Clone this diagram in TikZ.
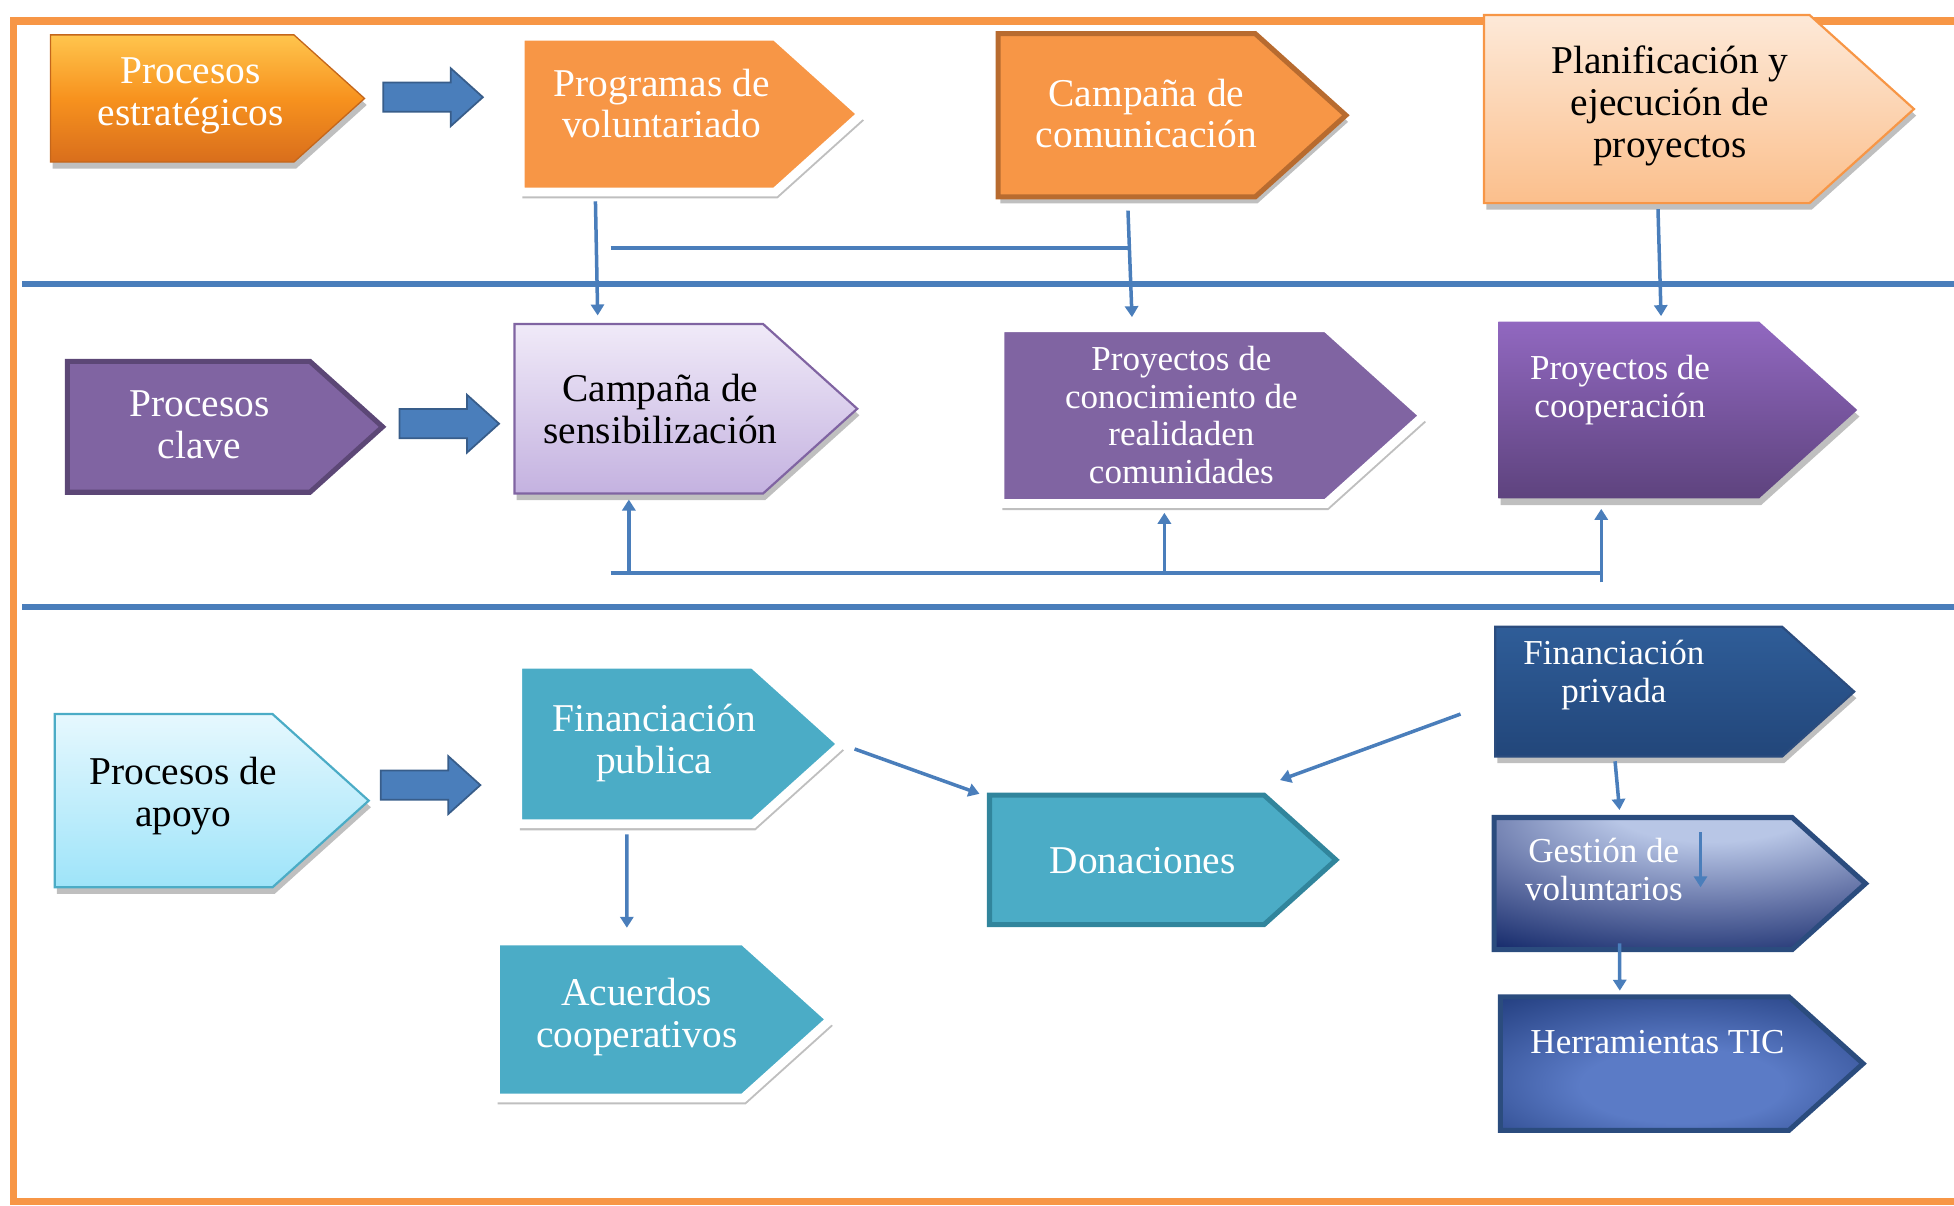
\documentclass[tikz,border=0pt]{standalone}
\usepackage{fontspec}
\setmainfont{Liberation Serif}
\usetikzlibrary{shapes.arrows,shapes.symbols,shadows,calc,arrows.meta}
\newcommand{\pxu}{0.02cm}
\definecolor{frameor}{HTML}{F79646}
\definecolor{lineblue}{HTML}{4A7EBB}
\definecolor{arrowedge}{HTML}{385D8A}
\definecolor{or1}{HTML}{FFC54D}
\definecolor{or2}{HTML}{F7921E}
\definecolor{or3}{HTML}{D96E1C}
\definecolor{or4}{HTML}{C4661B}
\definecolor{orbrown}{HTML}{B86B2F}
\definecolor{peach1}{HTML}{FDE9D8}
\definecolor{peach2}{HTML}{FBBF8C}
\definecolor{purp}{HTML}{8064A2}
\definecolor{purpdark}{HTML}{5C4776}
\definecolor{lav1}{HTML}{F0EAF8}
\definecolor{lav2}{HTML}{C4B2E0}
\definecolor{vio1}{HTML}{9168C0}
\definecolor{vio2}{HTML}{5E437E}
\definecolor{cyan1}{HTML}{E6F8FE}
\definecolor{cyan2}{HTML}{9EE4F9}
\definecolor{teal}{HTML}{4BACC6}
\definecolor{tealdark}{HTML}{31859C}
\definecolor{navy1}{HTML}{2F5D98}
\definecolor{navy2}{HTML}{22467A}
\definecolor{navyedge}{HTML}{2B4C7E}
\definecolor{gvin}{HTML}{B8C6E6}
\definecolor{gvmid}{HTML}{6675A8}
\definecolor{gvout}{HTML}{14296A}
\definecolor{htin}{HTML}{5B7BC6}
\definecolor{htout}{HTML}{152F6E}
\pgfdeclareradialshading{gvshading}{\pgfpoint{5bp}{35bp}}{color(0bp)=(gvin); color(14bp)=(gvin); color(32bp)=(gvmid); color(50bp)=(gvout); color(95bp)=(gvout)}
\pgfdeclareradialshading{htshading}{\pgfpoint{0bp}{-10bp}}{color(0bp)=(htin); color(14bp)=(htin); color(46bp)=(htout); color(80bp)=(htout)}

\begin{document}
\begin{tikzpicture}[x=0.02cm, y=-0.02cm,
    plate/.style 2 args={shape=signal, signal to=east, signal from=nowhere, signal pointer angle=84, inner sep=0pt, anchor=west, minimum width=#1*\pxu, minimum height=#2*\pxu},
    boxshadow/.style={drop shadow={shadow xshift=1pt, shadow yshift=-3pt, opacity=0.25, fill=black}},
    wline/.style={draw=white, line width=4pt},
    wtxt/.style={text=white, align=center, font=\fontsize{18}{19}\selectfont},
    btxt/.style={wtxt, text=black},
    stxt/.style={wtxt, font=\fontsize{16}{17.3}\selectfont},
    conn/.style={draw=lineblue, line width=1.6pt, -{Triangle[length=5pt,width=6pt]}},
    bus/.style={draw=lineblue, line width=1.6pt},
    divider/.style={draw=lineblue, line width=2.8pt},
    bigarrow/.style={shape=single arrow, draw=arrowedge, fill=lineblue, line width=0.8pt, inner xsep=0pt, inner ysep=11*\pxu, minimum height=80*\pxu, single arrow head extend=11.5*\pxu, single arrow tip angle=84}]
    \useasboundingbox (0,0) rectangle (1568,967);

    % frame and bands
    \draw[frameor, line width=3.4pt] (1580,17) -- (11,17) -- (11,964) -- (1580,964);
    \draw[divider] (18,228) -- (1580,228);
    \draw[divider] (18,487) -- (1580,487);

    % strategic processes
    \node[plate={252}{102}, boxshadow, top color=or1, bottom color=or3, middle color=or2, draw=or4, line width=.6pt] (pe) at (40,79) {};
    \node[plate={274}{125}, boxshadow, fill=frameor, wline] (pv) at (414,91.5) {};
    \node[plate={279}{131}, boxshadow, fill=frameor, draw=orbrown, line width=2.3pt] (pc) at (799,92.5) {};
    \node[plate={345}{151}, boxshadow, top color=peach1, bottom color=peach2, draw=frameor, line width=1pt] (pp) at (1190,87.5) {};
    \node[wtxt] (pe-t) at (153,77) {Procesos\\estratégicos};
    \node[wtxt] (pv-t) at (531,83) {Programas de\\voluntariado};
    \node[wtxt] (pc-t) at (920,91) {Campaña de\\comunicación};
    \node[btxt] (pp-t) at (1340,85) {Planificación y\\ejecución de\\proyectos};

    % key processes
    \node[plate={253}{105}, fill=purp, draw=purpdark, line width=2.3pt] (pk) at (52,342.5) {};
    \node[plate={275}{136}, boxshadow, top color=lav1, bottom color=lav2, draw=purp, line width=1pt] (ps) at (412,328) {};
    \node[plate={340}{141}, boxshadow, fill=purp, wline] (pr) at (799,333.5) {};
    \node[plate={288}{142}, boxshadow, top color=vio1, bottom color=vio2] (pco) at (1202,329) {};
    \node[wtxt] (pk-t) at (160,341) {Procesos\\clave};
    \node[btxt] (ps-t) at (530,328) {Campaña de\\sensibilización};
    \node[stxt] (pr-t) at (948,333) {Proyectos de\\conocimiento de\\realidaden\\comunidades};
    \node[stxt] (pco-t) at (1300,313) {Proyectos de\\cooperación};

    % support processes
    \node[plate={252}{139}, boxshadow, top color=cyan1, bottom color=cyan2, draw=teal, line width=1pt] (pa) at (43,642.5) {};
    \node[plate={260}{128}, boxshadow, fill=teal, wline] (fp) at (412,597) {};
    \node[plate={269}{126}, boxshadow, fill=teal, wline] (ac) at (394,818) {};
    \node[plate={278}{104}, fill=teal, draw=tealdark, line width=2.3pt] (dn) at (792,690) {};
    \node[plate={288}{104}, boxshadow, top color=navy1, bottom color=navy2, draw=navyedge, line width=1pt] (fv) at (1199,555) {};
    \node[plate={298}{106}, shade, shading=gvshading, draw=navyedge, line width=2.3pt] (gv) at (1197,709) {};
    \node[plate={291}{107}, shade, shading=htshading, draw=navyedge, line width=2.3pt] (ht) at (1202,853.5) {};
    \node[btxt] (pa-t) at (147,639) {Procesos de\\apoyo};
    \node[wtxt] (fp-t) at (525,596) {Financiación\\publica};
    \node[wtxt] (ac-t) at (511,816) {Acuerdos\\cooperativos};
    \node[wtxt] (dn-t) at (917,691) {Donaciones};
    \node[stxt] (fv-t) at (1295,542) {Financiación\\privada};
    \node[stxt] (gv-t) at (1287,698) {Gestión de\\voluntarios};
    \node[stxt] (ht-t) at (1330,836) {Herramientas TIC};

    % block arrows
    \node[bigarrow] (a1) at (341,78) {};
    \node[bigarrow] (a2) at (354,340) {};
    \node[bigarrow] (a3) at (339,630) {};

    % top band links
    \draw[conn] ($(pv.south)+(-42,4)$) -- ($(ps.north)+(-33,-6)$);
    \coordinate (cb) at ($(pc.south)+(1,9)$);
    \draw[conn] (cb) -- ($(pr.north)+(-25,-5)$);
    \coordinate (hl) at (490,199);
    \draw[bus] (hl) -- (hl -| cb);
    \draw[conn] ($(pp.south)+(9,4)$) -- ($(pco.north)+(26,-4)$);

    % feedback bus
    \coordinate (bl) at (490,460);
    \coordinate (br) at (1285,460);
    \draw[bus] (bl) -- (br);
    \coordinate (ps-in) at ($(ps.south)+(-8,4)$);
    \coordinate (pr-in) at ($(pr.south)+(1,4)$);
    \coordinate (pco-in) at ($(pco.south)+(-22,8)$);
    \draw[conn] (bl -| ps-in) -- (ps-in);
    \draw[conn] (bl -| pr-in) -- (pr-in);
    \draw[conn] ($(pco-in)+(0,59)$) -- (pco-in);

    % support links
    \draw[conn] ($(fp.east)+(5,4)$) -- ($(dn.west)+(-6,-53)$);
    \coordinate (fv-out) at ($(fv.west)+(-27,18)$);
    \draw[conn] (fv-out) -- ($(dn.north)+(123,-10)$);
    \draw[conn] ($(fp.south)+(-7,5)$) -- ($(ac.north)+(6,-7)$);
    \draw[conn] ($(fv.south)+(-19,3)$) -- ($(gv.north)+(-19,-4)$);
    \draw[conn] ($(gv.south)+(-19,-7)$) -- ($(ht.north)+(-20,-3)$);
    \draw[conn, line width=1.2pt] ($(gv.north)+(46,14)$) -- ++(0,44);
\end{tikzpicture}
\end{document}
